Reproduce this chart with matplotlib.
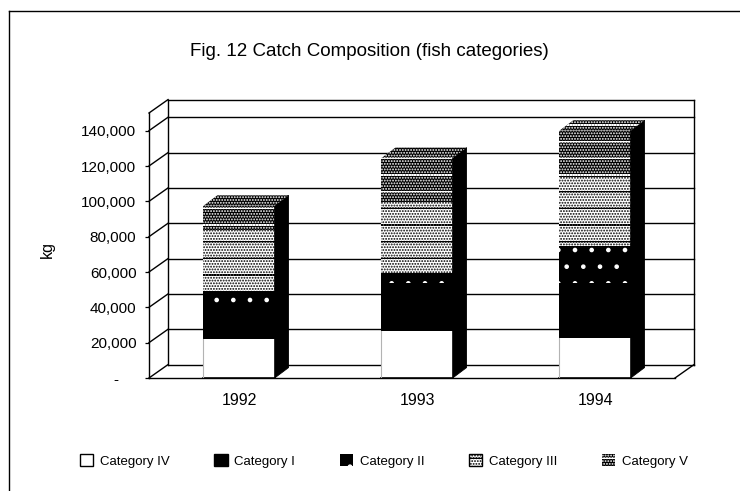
import matplotlib
matplotlib.use("Agg")
import matplotlib.pyplot as plt
from matplotlib.lines import Line2D

plt.rcParams['font.family'] = ['Liberation Sans', 'DejaVu Sans']
plt.rcParams['hatch.linewidth'] = 0.9

years = ["1992", "1993", "1994"]
cat_names = ["Category IV", "Category I", "Category II", "Category III", "Category V"]
cat_iv = [22000, 26500, 22500]
cat_i = [18000, 27000, 31000]
cat_ii = [8500, 6000, 21500]
cat_iii = [35000, 40000, 38500]
cat_v = [14000, 25000, 26500]
yticks = [20000, 40000, 60000, 80000, 100000, 120000, 140000]

series = [cat_iv, cat_i, cat_ii, cat_iii, cat_v]
faces = ["white", "black", "black", "white", "black"]
edges = ["black", "black", "white", "black", "white"]
hatches = [None, None, ".", "-......", "-......"]

W, H = 740, 491
fig = plt.figure(figsize=(W / 100, H / 100), dpi=100)
ax = fig.add_axes([149 / W, (H - 378) / H, 526 / W, 265 / H])
ax.set_xlim(-0.506, 2.449)
ax.set_ylim(0, 150000)
for s in ax.spines.values():
    s.set_visible(False)

# depth of the walls and of the bars, data units
wall_dx, wall_dy = 0.107, 7600
bar_dx, bar_dy = 0.078, 5900
x0, x1 = ax.get_xlim()
ytop = ax.get_ylim()[1]
line = dict(color="black", lw=1.0, clip_on=False, zorder=1)

# back wall and left wall
for v in [0] + yticks + [ytop]:
    ax.plot([x0 + wall_dx, x1 + wall_dx], [v + wall_dy, v + wall_dy], **line)
    ax.plot([x0, x0 + wall_dx], [v, v + wall_dy], **line)
ax.plot([x0, x0], [0, ytop], **line)
ax.plot([x0 + wall_dx, x0 + wall_dx], [wall_dy, ytop + wall_dy], **line)
ax.plot([x1 + wall_dx, x1 + wall_dx], [wall_dy, ytop + wall_dy], **line)
ax.plot([x0, x1], [0, 0], **line)
ax.plot([x1, x1 + wall_dx], [0, wall_dy], **line)

# stacked bars, front faces
width = 0.4
positions = [0, 1, 2]
bottoms = [0, 0, 0]
handles = []
for vals, fc, ec, h, name in zip(series, faces, edges, hatches, cat_names):
    bars = ax.bar(positions, vals, width, bottom=bottoms, facecolor=fc, edgecolor=ec,
                  hatch=h, linewidth=0, zorder=3, label=name)
    handles.append(bars)
    bottoms = [b + v for b, v in zip(bottoms, vals)]

# side and top faces
for p, total, low in zip(positions, bottoms, cat_iv):
    xr = p + width / 2
    xl = p - width / 2
    ax.fill([xr, xr + bar_dx, xr + bar_dx, xr], [0, bar_dy, total + bar_dy, total],
            facecolor="black", edgecolor="black", lw=0.6, zorder=3, clip_on=False)
    ax.fill([xl, xl + bar_dx, xr + bar_dx, xr], [total, total + bar_dy, total + bar_dy, total],
            facecolor="black", edgecolor="white", hatch="-......", lw=0, zorder=3, clip_on=False)
    ax.plot([xl, xr], [0, 0], color="black", lw=1.2, zorder=4)
    ax.plot([xl, xl], [0, low], color="0.7", lw=0.8, zorder=4)

ax.set_xticks(positions)
ax.set_xticklabels(years, fontsize=11.5)
ax.tick_params(axis="x", length=0, pad=11)
ax.set_yticks([0] + yticks)
ax.set_yticklabels(["-    "] + [f"{v:,}" for v in yticks], fontsize=11)
ax.tick_params(axis="y", length=3, width=0.9, pad=6)
ax.patch.set_visible(False)

fig.text(47 / W, 1 - 250 / H, "kg", rotation=90, fontsize=11.5, ha="center", va="center")
fig.text(369 / W, 1 - 51 / H, "Fig. 12 Catch Composition (fish categories)",
         fontsize=13.5, ha="center", va="center")

leg = fig.legend(handles=handles, loc="center", bbox_to_anchor=(384 / W, 1 - 461 / H), ncol=5,
                 frameon=False, fontsize=9.5, handlelength=1.0, handleheight=1.0,
                 handletextpad=0.5, columnspacing=3.4)
for p, ec in zip(leg.get_patches(), edges):
    if ec == "black":
        p.set_linewidth(1.0)

# outer frame, only left and top survive on the scan
fig.add_artist(Line2D([9 / W, 9 / W], [0, 1 - 11 / H], color="black", lw=1.0))
fig.add_artist(Line2D([9 / W, 1], [1 - 11 / H, 1 - 11 / H], color="black", lw=1.0))

fig.savefig("out.png", dpi=100)
